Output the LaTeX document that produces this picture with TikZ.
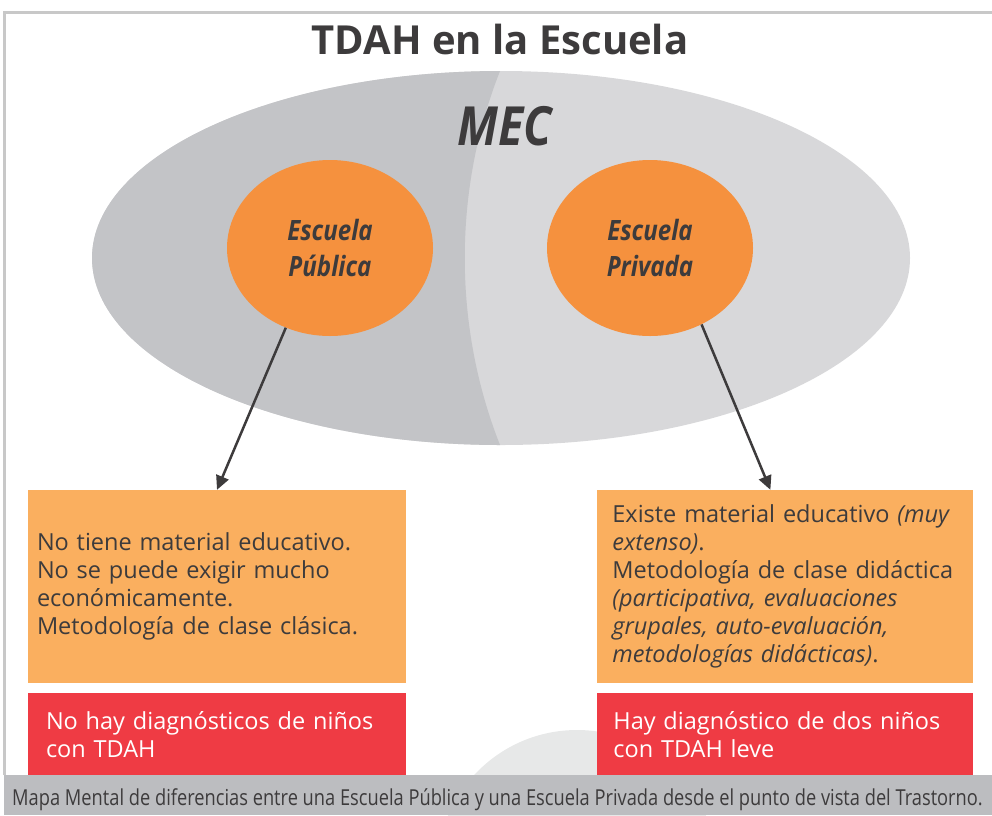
\documentclass[tikz,border=0pt]{standalone}
\usepackage{fontspec}
\setmainfont{Open Sans}
\newfontfamily\titlefont[FakeStretch=1.0]{Open Sans}
\newfontfamily\schoolfont[FakeStretch=0.86]{Open Sans}
\newfontfamily\capfont[FakeStretch=0.83]{Open Sans}
\definecolor{framegray}{RGB}{200, 200, 200}
\definecolor{mecdark}{RGB}{195, 196, 199}
\definecolor{meclight}{RGB}{216, 216, 218}
\definecolor{schoolorange}{RGB}{245, 145, 62}
\definecolor{paleorange}{RGB}{250, 175, 95}
\definecolor{alertred}{RGB}{239, 59, 68}
\definecolor{ink}{RGB}{61, 59, 60}
\definecolor{captiongray}{RGB}{188, 189, 192}
\definecolor{ghostgray}{RGB}{231, 232, 232}
\usetikzlibrary{arrows.meta}
\usetikzlibrary{positioning}
\usetikzlibrary{shapes.geometric}
\tikzset{
    arrow/.style={-{Triangle[length=14pt, width=13pt]}, line width=2.5pt, draw=ink},
    school/.style = {
      ellipse,
      minimum width=206pt,
      minimum height=176pt,
      inner sep=0pt,
      fill=schoolorange,
      text=ink,
      align=center,
      font=\schoolfont\bfseries\itshape\fontsize{28}{36}\selectfont
    },
    infobox/.style = {
      rectangle,
      fill=paleorange,
      text=ink,
      align=left,
      minimum height=193pt,
      font=\fontsize{23.5}{28}\selectfont
    },
    diagbox/.style = {
      rectangle,
      fill=alertred,
      text=white,
      align=left,
      minimum height=82pt,
      font=\fontsize{23.5}{28}\selectfont
    },
}

\begin{document}
\begin{tikzpicture}[x=1pt, y=-1pt]
      \useasboundingbox (0,0) rectangle (992,815);

      % frame
      \draw[framegray, line width=3pt] (4,775) -- (4,12) -- (992,12);

      \node [font=\titlefont\bfseries\fontsize{40}{48}\selectfont, text=ink] (title) at (500,39) {TDAH en la Escuela};

      % MEC ellipse, two shades
      \node [ellipse, fill=meclight, minimum width=818pt, minimum height=374pt, inner sep=0pt] (mec) at (501,258) {};
      \begin{scope}
        \clip (mec.center) ellipse [x radius=409pt, y radius=187pt];
        \fill[mecdark] (60,40) -- (500,71) .. controls (453,190) and (453,326) .. (500,445) -- (60,470) -- cycle;
      \end{scope}
      \node [font=\schoolfont\bfseries\itshape\fontsize{54}{60}\selectfont, text=ink] (mectitle) at (505,126) {MEC};

      \node [school] (publica) at (330,248) {Escuela\\Pública};
      \node [school] (privada) at (650,248) {Escuela\\Privada};

      \fill[ghostgray] (577,870) circle [radius=140pt];

      \node [
        infobox,
        text width=360pt,
        inner xsep=9pt,
      ] (publicabox) at (217,586.5) {No tiene material educativo.\\
        No se puede exigir mucho\\
        económicamente.\\
        Metodología de clase clásica.};

      \node [
        infobox,
        text width=346pt,
        inner xsep=15pt,
        right=191pt of publicabox,
      ] (privadabox) {Existe material educativo \textit{(muy\\
        extenso)}.\\
        Metodología de clase didáctica\\
        \textit{(participativa, evaluaciones\\
        grupales, auto-evaluación,\\
        metodologías didácticas)}.};

      \node [
        diagbox,
        text width=342pt,
        inner xsep=18pt,
        below=10pt of publicabox,
      ] (publicadiag) {No hay diagnósticos de niños\\con TDAH};

      \node [
        diagbox,
        text width=344pt,
        inner xsep=16pt,
        below=10pt of privadabox,
      ] (privadadiag) {Hay diagnóstico de dos niños\\con TDAH leve};

      \draw[arrow] (publica.241) -- (publicabox.north);
      \draw[arrow] (privada.304) -- ([xshift=-15pt]privadabox.north);

      % caption bar
      \fill[captiongray] (4,775) rectangle (992,815);
      \node [font=\capfont\fontsize{22}{24}\selectfont, text=ink] (caption) at (497.5,800) {Mapa Mental de diferencias entre una Escuela Pública y una Escuela Privada desde el punto de vista del Trastorno.};
\end{tikzpicture}
\end{document}
